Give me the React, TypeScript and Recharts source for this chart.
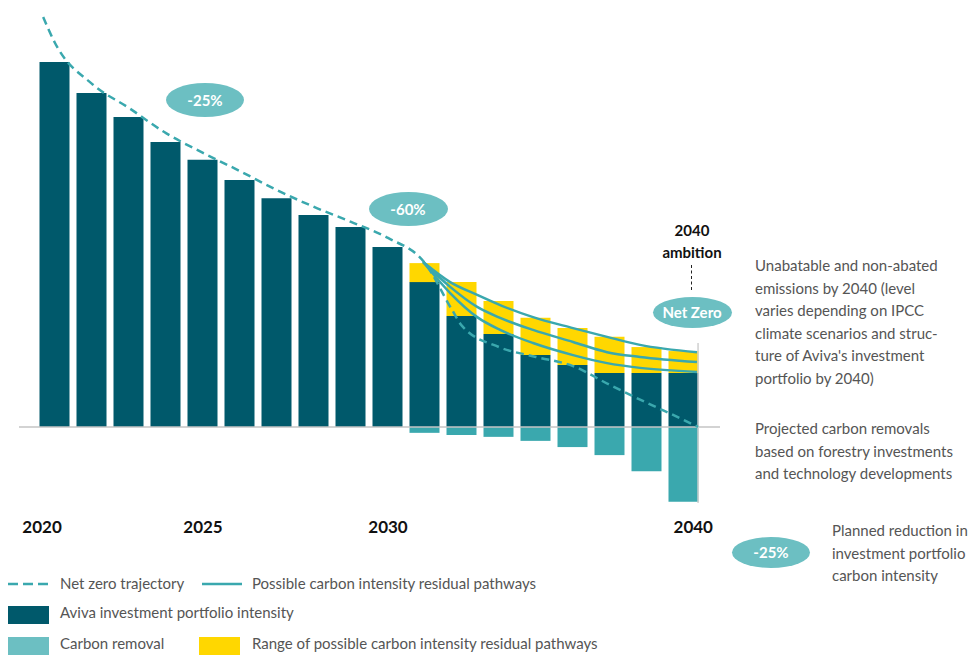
import { ComposedChart, Bar, Line, XAxis, YAxis, ReferenceLine } from "recharts";

// bars: schematic years, index 0 = 2020 ... 17 = 2040
const aviva = [100, 91.5, 84.9, 78.1, 73.2, 67.7, 62.7, 58.1, 54.8, 49.3, 39.7, 30.4, 25.5, 19.7, 17.0, 14.8, 14.8, 14.8];
const range = [0, 0, 0, 0, 0, 0, 0, 0, 0, 0, 5.2, 9.3, 9.0, 10.2, 10.1, 9.9, 7.1, 6.0];
const removal = [0, 0, 0, 0, 0, 0, 0, 0, 0, 0, -1.6, -2.2, -2.7, -3.8, -5.5, -7.7, -12.1, -20.5];

const tickPos = [-0.35, 4, 9, 17.25];
const tickLabels = ["2020", "2025", "2030", "2040"];

const netZeroX = [-0.32, 0, 1, 2, 3, 4, 5, 6, 7, 8, 9, 10, 10.73, 11, 12, 13, 14, 15, 16, 17, 17.38];
const netZeroV = [112.3, 105.2, 94.0, 87.4, 80.5, 75.1, 70.1, 64.9, 60.3, 56.2, 51.8, 44.9, 32.1, 27.7, 21.9, 19.2, 16.7, 11.5, 6.6, 1.9, 0];

const pathX = [9.95, 10.68, 11.41, 12.03, 12.92, 14.0, 14.92, 15.81, 17.35];
const pathHigh = [45.2, 39.7, 36.2, 33.4, 30.1, 27.1, 24.7, 22.5, 20.5];
const pathMid = [45.2, 38.4, 32.9, 29.9, 26.6, 23.3, 20.5, 19.2, 17.8];
const pathLow = [45.2, 36.7, 30.1, 26.6, 23.0, 19.7, 17.5, 16.2, 15.1];

const DARK = "#00596b";
const TEAL = "#3aa8ae";
const LIGHT = "#6cbfc2";
const YELLOW = "#ffd700";
const FONT = "Lato, 'Noto Sans', sans-serif";
const X_DOMAIN = [-0.973, 17.973];

const barData = aviva.map((v, i) => ({ x: i, aviva: v, range: range[i], removal: removal[i] }));
const netZero = netZeroX.map((x, i) => ({ x, v: netZeroV[i] }));
const toPath = (vals: number[]) => pathX.map((x, i) => ({ x, v: vals[i] }));

const pill = (cx: number, cy: number, w: number, h: number, text: string) => (
  <div
    style={{
      position: "absolute",
      left: cx - w / 2,
      top: cy - h / 2,
      width: w,
      height: h,
      borderRadius: "50%",
      background: LIGHT,
      color: "#fff",
      fontWeight: 700,
      fontSize: 15,
      display: "flex",
      alignItems: "center",
      justifyContent: "center",
    }}
  >
    {text}
  </div>
);

const note = (left: number, top: number, lines: string[]) => (
  <div style={{ position: "absolute", left, top, fontSize: 15, lineHeight: "22.5px", color: "#555" }}>
    {lines.map((l) => (
      <div key={l}>{l}</div>
    ))}
  </div>
);

const lineSwatch = (left: number, dashed: boolean) => (
  <svg style={{ position: "absolute", left, top: 580 }} width={42} height={8}>
    <line x1={1} y1={4} x2={41} y2={4} stroke={TEAL} strokeWidth={2.5} strokeDasharray={dashed ? "10 5" : undefined} />
  </svg>
);

export default function App() {
  return (
    <div style={{ position: "absolute", left: 0, top: 0, width: 971, height: 655, fontFamily: FONT, background: "#fff" }}>
      <ComposedChart
        width={971}
        height={655}
        data={barData}
        stackOffset="sign"
        margin={{ top: 7.25, right: 251, bottom: 106.75, left: 19 }}
      >
        <XAxis
          dataKey="x"
          type="number"
          domain={X_DOMAIN}
          allowDataOverflow
          ticks={tickPos}
          tickFormatter={(v) => tickLabels[tickPos.indexOf(v)] ?? ""}
          axisLine={false}
          tickLine={false}
          tickSize={0}
          tickMargin={3}
          height={30}
          interval={0}
          tick={{ fontSize: 17, fontWeight: 700, fill: "#111", fontFamily: FONT }}
        />
        <XAxis xAxisId="l" dataKey="x" type="number" domain={X_DOMAIN} allowDataOverflow hide />
        <YAxis hide type="number" domain={[-25, 115]} allowDataOverflow />
        <Bar dataKey="aviva" stackId="a" fill={DARK} barSize={30} isAnimationActive={false} />
        <Bar dataKey="range" stackId="a" fill={YELLOW} barSize={30} isAnimationActive={false} />
        <Bar dataKey="removal" stackId="a" fill={TEAL} barSize={30} isAnimationActive={false} />
        <ReferenceLine y={0} stroke="#c4c4c4" strokeWidth={1.5} />
        <ReferenceLine
          xAxisId="l"
          segment={[
            { x: 17.38, y: 23 },
            { x: 17.38, y: -20.8 },
          ]}
          stroke="#d0d0d0"
          strokeWidth={1.5}
        />
        <Line xAxisId="l" data={netZero} dataKey="v" type="monotone" stroke={TEAL} strokeWidth={2.5} strokeDasharray="8 5" dot={false} isAnimationActive={false} />
        <Line xAxisId="l" data={toPath(pathHigh)} dataKey="v" type="monotone" stroke={TEAL} strokeWidth={2.5} dot={false} isAnimationActive={false} />
        <Line xAxisId="l" data={toPath(pathMid)} dataKey="v" type="monotone" stroke={TEAL} strokeWidth={2.5} dot={false} isAnimationActive={false} />
        <Line xAxisId="l" data={toPath(pathLow)} dataKey="v" type="monotone" stroke={TEAL} strokeWidth={2.5} dot={false} isAnimationActive={false} />
      </ComposedChart>

      {pill(205, 100, 78, 34, "-25%")}
      {pill(408, 209, 79, 34, "-60%")}
      {pill(692, 312, 79, 31, "Net Zero")}
      {pill(771, 552, 78, 31, "-25%")}

      <div style={{ position: "absolute", left: 632, top: 219, width: 120, textAlign: "center", fontWeight: 700, fontSize: 15, lineHeight: "22px", color: "#111" }}>
        <div>2040</div>
        <div>ambition</div>
      </div>
      <div style={{ position: "absolute", left: 691, top: 265, height: 25, borderLeft: "1px dashed #222" }} />

      {note(755, 254, [
        "Unabatable and non-abated",
        "emissions by 2040 (level",
        "varies depending on IPCC",
        "climate scenarios and struc-",
        "ture of Aviva's investment",
        "portfolio by 2040)",
      ])}
      {note(755, 417, ["Projected carbon removals", "based on forestry investments", "and technology developments"])}
      {note(832, 519, ["Planned reduction in", "investment portfolio", "carbon intensity"])}

      <div style={{ position: "absolute", left: 0, top: 0, fontSize: 15, color: "#555" }}>
        {lineSwatch(7, true)}
        <div style={{ position: "absolute", left: 60, top: 574, whiteSpace: "nowrap" }}>Net zero trajectory</div>
        {lineSwatch(201, false)}
        <div style={{ position: "absolute", left: 252, top: 574, whiteSpace: "nowrap" }}>Possible carbon intensity residual pathways</div>
        <div style={{ position: "absolute", left: 8, top: 606, width: 41, height: 18, background: DARK }} />
        <div style={{ position: "absolute", left: 60, top: 603, whiteSpace: "nowrap" }}>Aviva investment portfolio intensity</div>
        <div style={{ position: "absolute", left: 8, top: 637, width: 41, height: 18, background: LIGHT }} />
        <div style={{ position: "absolute", left: 60, top: 634, whiteSpace: "nowrap" }}>Carbon removal</div>
        <div style={{ position: "absolute", left: 199, top: 637, width: 41, height: 18, background: YELLOW }} />
        <div style={{ position: "absolute", left: 252, top: 634, whiteSpace: "nowrap" }}>Range of possible carbon intensity residual pathways</div>
      </div>
    </div>
  );
}
